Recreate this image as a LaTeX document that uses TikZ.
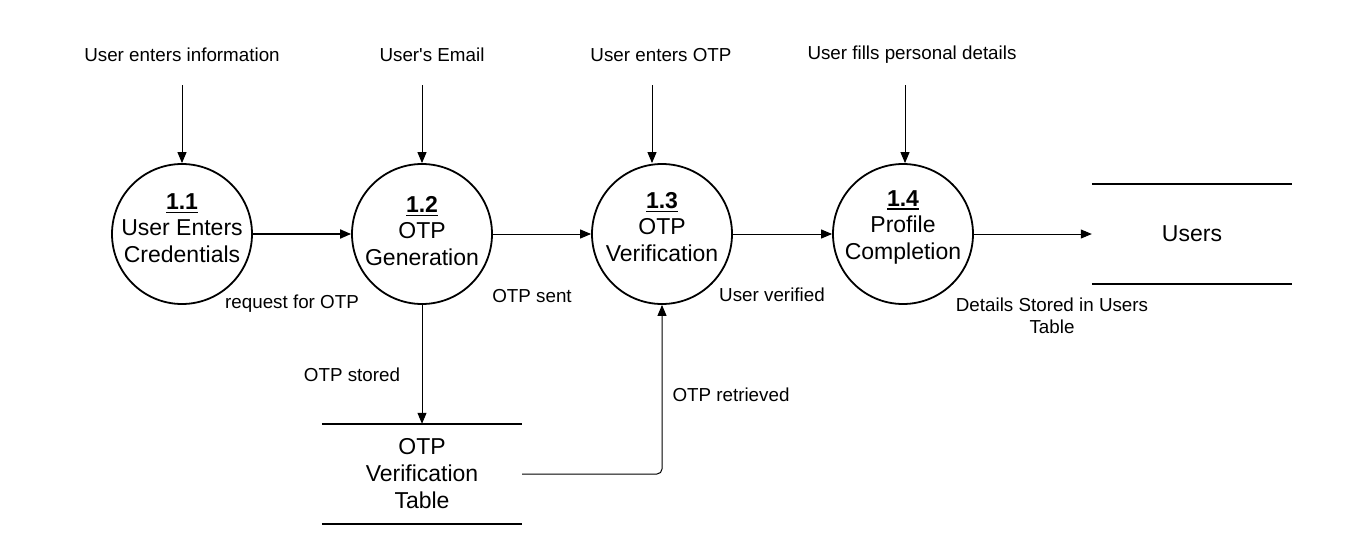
\documentclass[tikz,border=0pt]{standalone}
\usepackage{fontspec}
\setmainfont{Liberation Sans}
\usetikzlibrary{arrows.meta}
\newcommand\procnum[1]{\setbox0=\hbox{\bfseries #1}\leavevmode\rlap{\rule[-4pt]{\wd0}{1.8pt}}\box0}
\tikzset{
  proc/.style={circle, draw, line width=1.8pt, minimum size=140pt, inner sep=0pt},
  ptext/.style={inner sep=0pt, align=center, font=\fontsize{23}{26.5}\selectfont},
  store/.style={minimum width=200pt, minimum height=100pt, inner sep=0pt, align=center,
    font=\fontsize{23}{27}\selectfont},
  lbl/.style={inner sep=0pt, align=center, font=\fontsize{18.8}{22}\selectfont},
  flow/.style={-{Triangle[length=11pt,width=9pt]}, line width=1pt},
  bar/.style={line width=1.8pt}
}
\begin{document}
\begin{tikzpicture}[x=1pt,y=-1pt]
\useasboundingbox (0,0) rectangle (1354,551);
% processes
\node[proc] (p1) at (182,234) {};
\node[proc] (p2) at (422,234) {};
\node[proc] (p3) at (662,234) {};
\node[proc] (p4) at (903,234) {};
\node[ptext] (p1t) at (182,228) {\procnum{1.1}\\User Enters\\Credentials};
\node[ptext] (p2t) at (422,231) {\procnum{1.2}\\OTP\\Generation};
\node[ptext] (p3t) at (662,227) {\procnum{1.3}\\OTP\\Verification};
\node[ptext] (p4t) at (903,227) {\procnum{1.4}\\Profile\\Completion};
% stores
\node[store] (users) at (1192,234) {Users};
\node[store] (otpt) at (422,474) {OTP\\Verification\\Table};
\draw[bar] (users.north west) -- (users.north east);
\draw[bar] (users.south west) -- (users.south east);
\draw[bar] (otpt.north west) -- (otpt.north east);
\draw[bar] (otpt.south west) -- (otpt.south east);
% external inputs
\node[lbl] (t1) at (182,55) {User enters information};
\node[lbl] (t2) at (432,55) {User\textquotesingle s Email};
\node[lbl] (t3) at (661,55) {User enters OTP};
\node[lbl] (t4) at (912,55) {User fills personal details};
\coordinate (i1) at (182,85);
\coordinate (i2) at (422,85);
\coordinate (i3) at (652,85);
\coordinate (i4) at (905,85);
\draw[flow] (i1) -- (i1 |- p1.north);
\draw[flow] (i2) -- (i2 |- p2.north);
\draw[flow] (i3) -- (i3 |- p3.north);
\draw[flow] (i4) -- (i4 |- p4.north);
% flows
\draw[flow, line width=1.8pt] (p1.east) -- (p2.west);
\draw[flow] (p2.east) -- (p3.west);
\draw[flow] (p3.east) -- (p4.west);
\draw[flow] (p4.east) -- (users.west);
\draw[flow] (p2.south) -- (otpt.north);
\draw[flow, rounded corners=5pt] (otpt.east) -| (p3.south);
% labels
\node[lbl] (l1) at (292,304) {request for OTP};
\node[lbl] (l2) at (532,296) {OTP sent};
\node[lbl] (l3) at (772,295) {User verified};
\node[lbl] (l4) at (1052,316) {Details Stored in Users\\Table};
\node[lbl] (l5) at (352,375) {OTP stored};
\node[lbl] (l6) at (731,395) {OTP retrieved};
\end{tikzpicture}
\end{document}
